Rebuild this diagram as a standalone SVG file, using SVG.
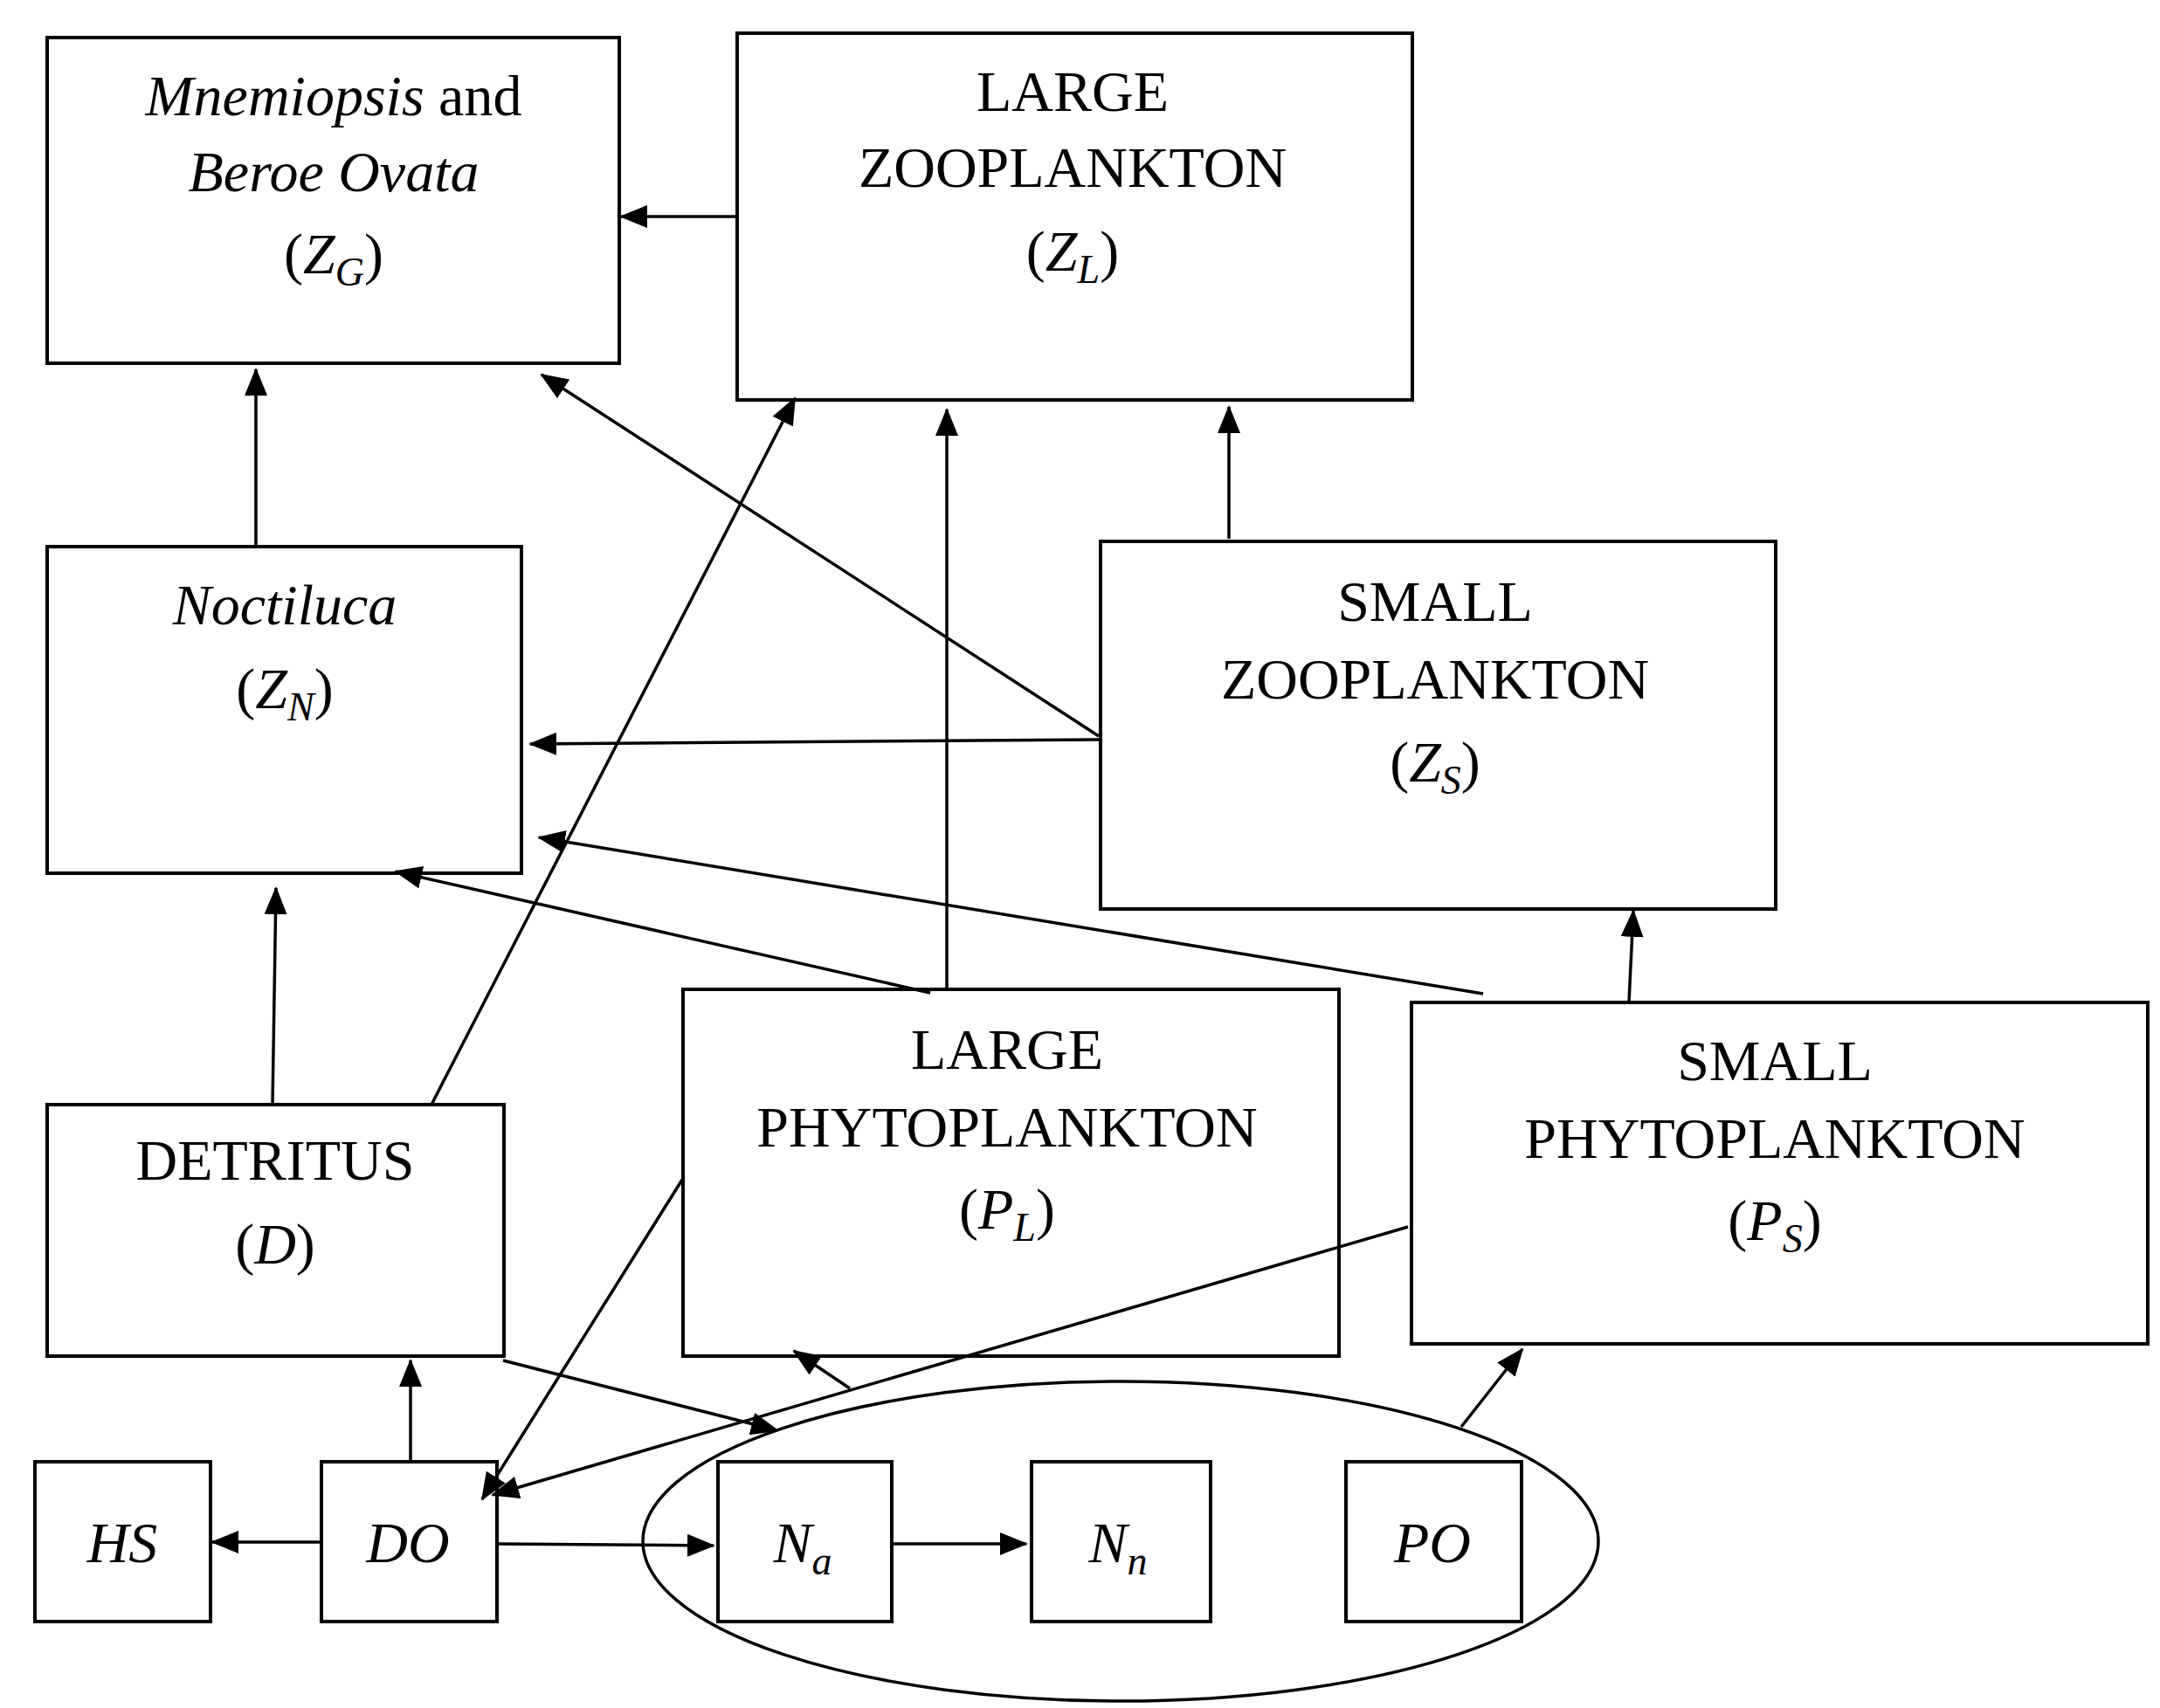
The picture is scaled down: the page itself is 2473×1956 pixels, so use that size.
<svg xmlns="http://www.w3.org/2000/svg" width="2473" height="1956" viewBox="0 0 2473 1956">
<style>
.b{fill:#fff;stroke:#000;stroke-width:4}
.t{font-family:"Liberation Serif",serif;font-size:66px;text-anchor:middle;fill:#000}
.i{font-style:italic}
.s{font-size:46px;font-style:italic}
.c line{stroke:#000;stroke-width:3.5}
</style>
<defs><marker id="a" markerUnits="userSpaceOnUse" markerWidth="32" markerHeight="26" refX="30" refY="13" orient="auto"><path d="M0,0L32,13L0,26z"/></marker></defs>
<rect width="2473" height="1956" fill="#fff"/>
<g id="ZG"><rect class="b" x="54" y="43" width="655" height="373"/>
<text class="t" x="382" y="132"><tspan class="i">Mnemiopsis</tspan> and</text>
<text class="t i" x="382" y="219">Beroe Ovata</text>
<text class="t" x="382" y="313">(<tspan class="i">Z</tspan><tspan class="s" dy="14">G</tspan><tspan dy="-14">)</tspan></text></g>
<g id="ZL"><rect class="b" x="844" y="38" width="773" height="420"/>
<text class="t" x="1228" y="127">LARGE</text><text class="t" x="1228" y="214">ZOOPLANKTON</text>
<text class="t" x="1228" y="310">(<tspan class="i">Z</tspan><tspan class="s" dy="14">L</tspan><tspan dy="-14">)</tspan></text></g>
<g id="ZN"><rect class="b" x="54" y="626" width="543" height="374"/>
<text class="t i" x="326" y="715">Noctiluca</text>
<text class="t" x="326" y="811">(<tspan class="i">Z</tspan><tspan class="s" dy="14">N</tspan><tspan dy="-14">)</tspan></text></g>
<g id="ZS"><rect class="b" x="1260" y="620" width="773" height="421"/>
<text class="t" x="1643" y="711">SMALL</text><text class="t" x="1643" y="800">ZOOPLANKTON</text>
<text class="t" x="1643" y="895">(<tspan class="i">Z</tspan><tspan class="s" dy="14">S</tspan><tspan dy="-14">)</tspan></text></g>
<g id="D"><rect class="b" x="54" y="1265" width="523" height="288"/>
<text class="t" x="315" y="1351">DETRITUS</text><text class="t" x="315" y="1447">(<tspan class="i">D</tspan>)</text></g>
<g id="PL"><rect class="b" x="782" y="1133" width="751" height="420"/>
<text class="t" x="1153" y="1224">LARGE</text><text class="t" x="1153" y="1313">PHYTOPLANKTON</text>
<text class="t" x="1153" y="1407">(<tspan class="i">P</tspan><tspan class="s" dy="14">L</tspan><tspan dy="-14">)</tspan></text></g>
<g id="PS"><rect class="b" x="1616" y="1148" width="843" height="391"/>
<text class="t" x="2032" y="1237">SMALL</text><text class="t" x="2032" y="1326">PHYTOPLANKTON</text>
<text class="t" x="2032" y="1420">(<tspan class="i">P</tspan><tspan class="s" dy="14">S</tspan><tspan dy="-14">)</tspan></text></g>
<g id="N"><ellipse cx="1283" cy="1765" rx="547" ry="183" fill="none" stroke="#000" stroke-width="3.5"/></g>
<g id="HS"><rect class="b" x="40" y="1674" width="201" height="183"/><text class="t i" x="140" y="1789">HS</text></g>
<g id="DO"><rect class="b" x="368" y="1674" width="201" height="183"/><text class="t i" x="467" y="1789">DO</text></g>
<g id="Na"><rect class="b" x="822" y="1674" width="199" height="183"/><text class="t" x="919" y="1789"><tspan class="i">N</tspan><tspan class="s" dy="14">a</tspan></text></g>
<g id="Nn"><rect class="b" x="1181" y="1674" width="205" height="183"/><text class="t" x="1280" y="1789"><tspan class="i">N</tspan><tspan class="s" dy="14">n</tspan></text></g>
<g id="PO"><rect class="b" x="1541" y="1674" width="201" height="183"/><text class="t i" x="1640" y="1789">PO</text></g>
<g class="c" marker-end="url(#a)">
<line x1="844" y1="248" x2="711" y2="248"/>
<line x1="293" y1="626" x2="293" y2="423"/>
<line x1="1258" y1="843" x2="620" y2="429"/>
<line x1="1258" y1="847" x2="607" y2="852"/>
<line x1="1407" y1="617" x2="1407" y2="466"/>
<line x1="1084" y1="1134" x2="1084" y2="469"/>
<line x1="494" y1="1265" x2="910" y2="456"/>
<line x1="1065" y1="1137" x2="453" y2="998"/>
<line x1="1698" y1="1138" x2="617" y2="959"/>
<line x1="1865" y1="1148" x2="1870" y2="1043"/>
<line x1="470" y1="1674" x2="470" y2="1558"/>
<line x1="576" y1="1558" x2="890" y2="1638"/>
<line x1="781" y1="1351" x2="552" y2="1717"/>
<line x1="1612" y1="1405" x2="564" y2="1712"/>
<line x1="973" y1="1590" x2="909" y2="1547"/>
<line x1="1673" y1="1634" x2="1743" y2="1545"/>
<line x1="312" y1="1265" x2="316" y2="1017"/>
<line x1="368" y1="1766" x2="243" y2="1766"/>
<line x1="568" y1="1768" x2="817" y2="1770"/>
<line x1="1019" y1="1768" x2="1175" y2="1768"/>
</g>
</svg>
